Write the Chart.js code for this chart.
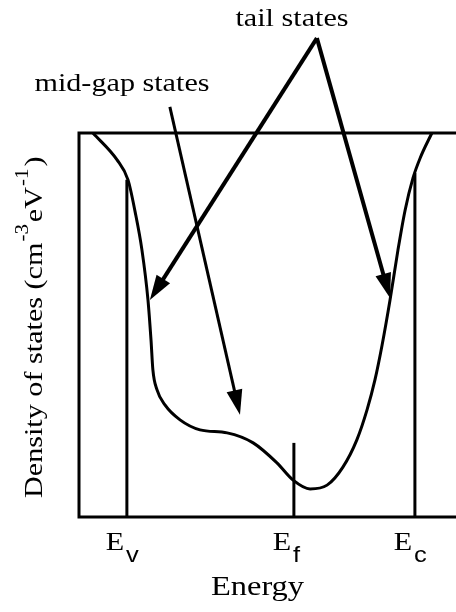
<!DOCTYPE html>
<html>
<head>
<meta charset="utf-8">
<script src="https://cdn.jsdelivr.net/npm/chart.js@4/dist/chart.umd.min.js"></script>
<style>
  html, body { margin: 0; background: #fff; }
</style>
</head>
<body>
<canvas id="dos" width="456" height="612"></canvas>
<script>
// density of states vs energy (arb. units, DOS as % of full scale)
const energy = [0.37, 1.01, 1.30, 1.49, 1.67, 1.83, 1.91, 1.96, 2.07, 2.28, 2.68, 3.21, 3.93, 4.62, 5.25,
  5.68, 6.13, 6.58, 7.00, 7.37, 7.64, 7.85, 8.04, 8.25, 8.46, 8.65, 8.86, 9.05, 9.36]
const dos = [100, 93.0, 87.8, 79.4, 69.5, 56.5, 46.1, 38.3, 33.1, 29.2, 25.3, 22.7, 21.9, 19.3, 14.1,
  9.6, 7.3, 8.3, 13.0, 20.1, 27.9, 35.7, 44.8, 56.5, 69.5, 79.9, 88.3, 93.5, 100]

// valence edge, Fermi level, conduction edge
const edgeNames = ['v', 'f', 'c']
const edgeEnergy = [1.27, 5.70, 8.91]
const edgeTop = [87.8, 19.3, 89.6]

// arrow end points, in the same energy / DOS units
const tailApex = [6.31, 124.7]
const tailTips = [[1.88, 56.5], [8.25, 57.0]]
const midgapStart = [2.41, 106.8]
const midgapTip = [4.27, 26.6]

const labelTail = {text: 'tail states', x: 5.65, y: 127.9}
const labelMidgap = {text: 'mid-gap states', x: 1.14, y: 110.9}

const SERIF = '"Liberation Serif", "Times New Roman", serif'
const SANS = '"Liberation Sans", Arial, sans-serif'
const STRETCH = 1.16

function stretchText(ctx, str, x, y, font, align){
  ctx.save()
  ctx.font = font
  const w = ctx.measureText(str).width * STRETCH
  const x0 = align === 'center' ? x - w/2 : align === 'right' ? x - w : x
  ctx.translate(x0, y); ctx.scale(STRETCH, 1)
  ctx.textAlign = 'left'; ctx.textBaseline = 'alphabetic'
  ctx.fillText(str, 0, 0)
  ctx.restore()
  return w
}

function arrow(ctx, x0, y0, x1, y1, width, headLen, headHalf){
  const a = Math.atan2(y1 - y0, x1 - x0)
  const bx = x1 - Math.cos(a)*headLen, by = y1 - Math.sin(a)*headLen
  ctx.lineWidth = width
  ctx.beginPath(); ctx.moveTo(x0, y0); ctx.lineTo(bx + Math.cos(a)*2, by + Math.sin(a)*2); ctx.stroke()
  ctx.beginPath()
  ctx.moveTo(x1, y1)
  ctx.lineTo(bx + Math.sin(a)*headHalf, by - Math.cos(a)*headHalf)
  ctx.lineTo(bx - Math.sin(a)*headHalf, by + Math.cos(a)*headHalf)
  ctx.closePath(); ctx.fill()
}

const frameAndNotes = {
  id: 'frameAndNotes',
  beforeDatasetsDraw(chart){
    const {ctx, chartArea: a} = chart
    ctx.save()
    ctx.strokeStyle = '#000'; ctx.lineWidth = 3; ctx.lineCap = 'square'
    ctx.beginPath()
    ctx.moveTo(chart.width, a.top); ctx.lineTo(a.left, a.top)
    ctx.lineTo(a.left, a.bottom); ctx.lineTo(chart.width, a.bottom)
    ctx.stroke()
    ctx.restore()
  },
  afterDatasetsDraw(chart){
    const {ctx, chartArea: a} = chart
    const xs = chart.scales.x, ys = chart.scales.y
    const px = v => xs.getPixelForValue(v), py = v => ys.getPixelForValue(v)
    ctx.save()
    ctx.fillStyle = '#000'; ctx.strokeStyle = '#000'; ctx.lineCap = 'butt'

    // arrows
    tailTips.forEach(t => arrow(ctx, px(tailApex[0]), py(tailApex[1]), px(t[0]), py(t[1]), 4, 25, 8))
    arrow(ctx, px(midgapStart[0]), py(midgapStart[1]), px(midgapTip[0]), py(midgapTip[1]), 3, 25, 8)

    // annotations
    stretchText(ctx, labelTail.text, px(labelTail.x), py(labelTail.y), '26px ' + SERIF, 'center')
    stretchText(ctx, labelMidgap.text, px(labelMidgap.x), py(labelMidgap.y), '26px ' + SERIF, 'center')

    // E_v, E_f, E_c under the axis
    edgeEnergy.forEach((e, i) => {
      const x = px(e) - 12
      ctx.font = '26px ' + SERIF
      const w = ctx.measureText('E').width * STRETCH
      stretchText(ctx, 'E', x, a.bottom + 33, '26px ' + SERIF, 'center')
      stretchText(ctx, edgeNames[i], x + w/2 + 2, a.bottom + 45, '22px ' + SANS, 'left')
    })

    // x title
    stretchText(ctx, 'Energy', (a.left + a.right)/2 - 10, a.bottom + 78, '28px ' + SERIF, 'center')

    // y title, rotated, with superscripts
    ctx.translate(a.left - 37, a.bottom - 19)
    ctx.rotate(-Math.PI/2)
    let x = 0
    x += stretchText(ctx, 'Density of states (cm', x, 0, '26px ' + SERIF, 'left')
    x += stretchText(ctx, '-3', x + 1, -14, '18px ' + SERIF, 'left') + 3
    x += stretchText(ctx, 'eV', x, 0, '26px ' + SERIF, 'left')
    x += stretchText(ctx, '-1', x + 1, -14, '18px ' + SERIF, 'left') + 3
    stretchText(ctx, ')', x, 0, '26px ' + SERIF, 'left')
    ctx.restore()
  }
}

const curve = energy.map((e, i) => ({x: e, y: dos[i]}))
const edgeLines = edgeEnergy.map((e, i) => ({
  data: [{x: e, y: 0}, {x: e, y: edgeTop[i]}],
  borderColor: '#000', borderWidth: 3, pointRadius: 0, clip: false
}))

new Chart(document.getElementById('dos'), {
  type: 'line',
  data: {
    datasets: [
      {data: curve, borderColor: '#000', borderWidth: 3, pointRadius: 0,
       cubicInterpolationMode: 'monotone', clip: false},
      ...edgeLines
    ]
  },
  options: {
    responsive: false,
    devicePixelRatio: 1,
    animation: false,
    layout: {padding: {left: 79, top: 133, right: 0, bottom: 95}},
    plugins: {legend: {display: false}, tooltip: {enabled: false}},
    scales: {
      x: {type: 'linear', min: 0, max: 10, display: false},
      y: {min: 0, max: 100, display: false}
    }
  },
  plugins: [frameAndNotes]
})
</script>
</body>
</html>
